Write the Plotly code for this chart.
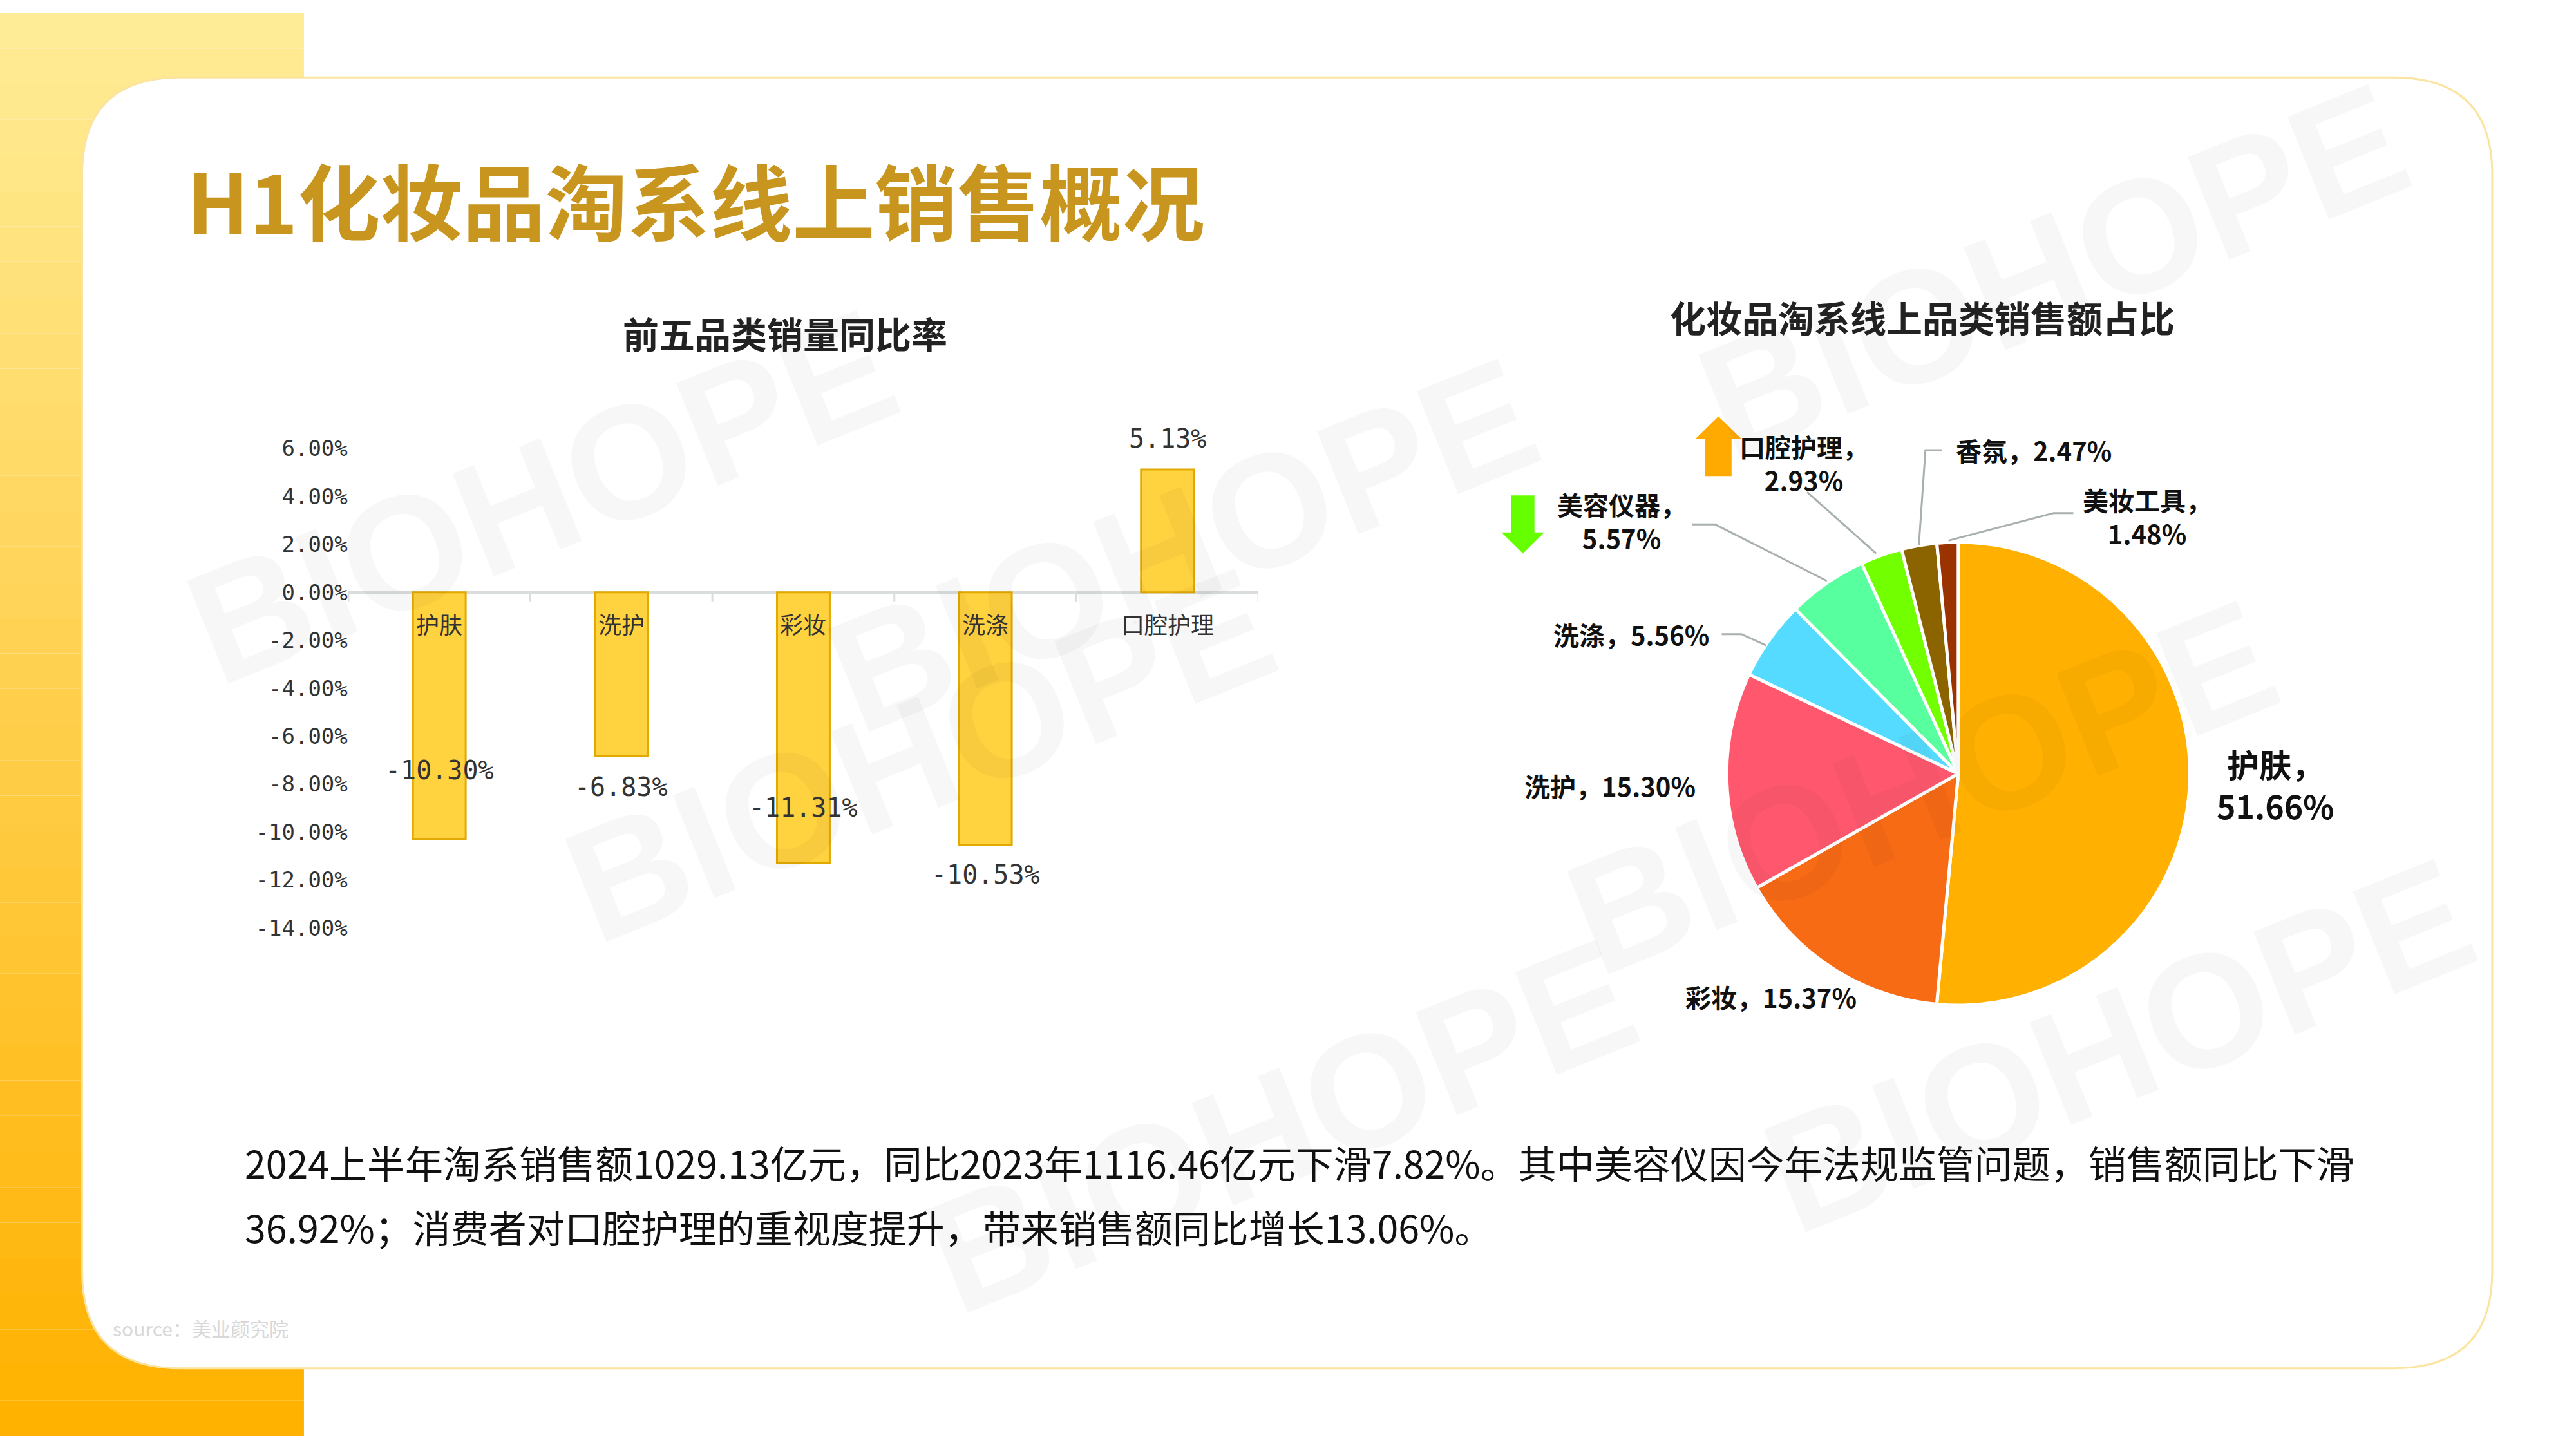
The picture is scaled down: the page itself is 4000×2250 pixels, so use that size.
import plotly.graph_objects as go

# ---- data ----
bar_categories = ["护肤", "洗护", "彩妆", "洗涤", "口腔护理"]
bar_values = [-10.30, -6.83, -11.31, -10.53, 5.13]
y_ticks = [6, 4, 2, 0, -2, -4, -6, -8, -10, -12, -14]

pie_labels = ["护肤", "彩妆", "洗护", "洗涤", "美容仪器", "口腔护理", "香氛", "美妆工具"]
pie_values = [51.66, 15.37, 15.30, 5.56, 5.57, 2.93, 2.47, 1.48]
pie_colors = ["#FFB000", "#F76B15", "#FF586E", "#55DBFF", "#58FF9E", "#72FF00", "#8B6400", "#9B3300"]

title_text = "H1化妆品淘系线上销售概况"
bar_title = "前五品类销量同比率"
pie_title = "化妆品淘系线上品类销售额占比"
para_lines = ["2024上半年淘系销售额1029.13亿元，同比2023年1116.46亿元下滑7.82%。其中美容仪因今年法规监管问题，销售额同比下滑",
              "36.92%；消费者对口腔护理的重视度提升，带来销售额同比增长13.06%。"]
source = "source：美业颜究院"

W, H = 4000, 2250
RW, RH = 1568, 882
def px(x): return x / RW
def py(y): return 1 - y / RH

FONT = "Noto Sans CJK SC"
fig = go.Figure()
shapes = []
# left gradient strip
n = 40
for i in range(n):
    t = i / (n - 1)
    g = int(236 - (236 - 178) * t)
    b = int(150 - (150 - 0) * t)
    shapes.append(dict(type="rect", xref="paper", yref="paper", x0=0, x1=px(185),
                       y0=1 - (i + 1) / n, y1=1 - i / n, line=dict(width=0),
                       fillcolor=f"rgb(255,{g},{b})", layer="below"))
# card with rounded corners
x0, x1, y0, y1, rr = 50 / RW, 1517 / RW, 1 - 840 / RH, 1 - 40 / RH, 60
rx, ry = rr / RW, rr / RH
path = (f"M {x0+rx},{y0} L {x1-rx},{y0} Q {x1},{y0} {x1},{y0+ry} L {x1},{y1-ry} Q {x1},{y1} {x1-rx},{y1} "
        f"L {x0+rx},{y1} Q {x0},{y1} {x0},{y1-ry} L {x0},{y0+ry} Q {x0},{y0} {x0+rx},{y0} Z")
shapes.append(dict(type="path", xref="paper", yref="paper", path=path, fillcolor="white",
                   line=dict(color="#FBE3A0", width=3), layer="below"))

def A(x, y, text, size, color="#111", family=FONT, xanchor="center", **kw):
    return dict(x=px(x), y=py(y), xref="paper", yref="paper", showarrow=False, text=text,
                xanchor=xanchor, yanchor="middle", font=dict(size=size, color=color, family=family), **kw)

annos = []
# watermarks
for (wx, wy) in [(330, 300), (720, 330), (560, 460), (1250, 160), (1170, 480), (780, 690), (1290, 640)]:
    annos.append(A(wx, wy, "<b>BIOHOPE</b>", 250, color="rgba(0,0,0,0.03)", family="Liberation Sans", textangle=-22))

# ---- bar chart ----
fig.add_trace(go.Bar(x=bar_categories, y=bar_values, width=0.29,
                     marker=dict(color="#FFD23F", line=dict(color="#E2A900", width=3)),
                     xaxis="x", yaxis="y"))
fig.update_layout(
    xaxis=dict(domain=[px(212), px(766)], range=[-0.5, 4.5], showticklabels=False, showgrid=False,
               zeroline=False, showline=False, fixedrange=True),
    yaxis=dict(domain=[py(567), py(270)], range=[-14, 6], tickvals=y_ticks,
               ticktext=[f"{v:.2f}%" for v in y_ticks], showgrid=False, zeroline=True,
               zerolinecolor="#D9DDDD", zerolinewidth=4, showline=False,
               tickfont=dict(size=34, color="#333", family="DejaVu Sans Mono"), ticks="", ticklen=0),
)
for i in range(6):
    shapes.append(dict(type="line", xref="x", yref="y", x0=-0.5 + i, x1=-0.5 + i, y0=0, y1=-0.4,
                       line=dict(color="#D9DDDD", width=3)))
lbl_shift = [107, -48, 87, -46, 48]
for c, v, s in zip(bar_categories, bar_values, lbl_shift):
    annos.append(dict(x=c, y=v, xref="x", yref="y", text=f"{v:.2f}%", showarrow=False,
                      xanchor="center", yanchor="middle",
                      yshift=s, font=dict(size=40, color="#333", family="DejaVu Sans Mono")))
    annos.append(dict(x=c, y=0, xref="x", yref="y", text=c, showarrow=False, yshift=-48,
                      xanchor="center", yanchor="middle",
                      font=dict(size=36, color="#333", family=FONT)))

# ---- pie ----
fig.add_trace(go.Pie(labels=pie_labels, values=pie_values, sort=False, direction="clockwise", rotation=0,
                     marker=dict(colors=pie_colors, line=dict(color="white", width=5)),
                     textinfo="none", showlegend=False, hoverinfo="label+value",
                     domain=dict(x=[px(1048), px(1336)], y=[py(615), py(328)])))

pie_label_pos = [(1385, 478, "，<br>"), (1078, 610, "，"), (980, 479, "，"), (993, 385, "，"),
                 (987, 315, "，<br>"), (1098, 279, "，<br>"), (1238, 271, "，"), (1307, 312, "，<br>")]
for lab, val, (lx, ly, sep) in zip(pie_labels, pie_values, pie_label_pos):
    sz = 50 if lab == "护肤" else 40
    annos.append(A(lx, ly, f"<b>{lab}{sep}{val:.2f}%</b>", sz, color="#111"))
leaders = [[(1048, 385), (1060, 385), (1075, 392)],
           [(1030, 317), (1044, 317), (1112, 352)],
           [(1100, 297), (1142, 335)],
           [(1182, 271), (1172, 271), (1168, 330)],
           [(1262, 310), (1250, 310), (1186, 327)]]
for pts in leaders:
    d = "M " + " L ".join(f"{px(a)},{py(b)}" for a, b in pts)
    shapes.append(dict(type="path", xref="paper", yref="paper", path=d, line=dict(color="#A8B0B0", width=3)))

def arrow(cx, top, bot, w, hw, hh, color, up=True):
    if up:
        pts = [(cx, top), (cx + hw, top + hh), (cx + w, top + hh), (cx + w, bot), (cx - w, bot), (cx - w, top + hh), (cx - hw, top + hh)]
    else:
        pts = [(cx, bot), (cx + hw, bot - hh), (cx + w, bot - hh), (cx + w, top), (cx - w, top), (cx - w, bot - hh), (cx - hw, bot - hh)]
    d = "M " + " L ".join(f"{px(a)},{py(b)}" for a, b in pts) + " Z"
    shapes.append(dict(type="path", xref="paper", yref="paper", path=d, fillcolor=color, line=dict(width=0)))
arrow(1046, 250, 287, 8, 14, 14, "#FFAA00", up=True)
arrow(927, 299, 335, 7, 13, 13, "#66FF00", up=False)

# text
annos += [
    A(113, 115, f"<b>{title_text}</b>", 128, color="#C8961E", xanchor="left"),
    A(478, 198, f"<b>{bar_title}</b>", 56, color="#222"),
    A(1170, 188, f"<b>{pie_title}</b>", 56, color="#222"),
    A(148, 712, para_lines[0], 59, xanchor="left"),
    A(148, 752, para_lines[1], 59, xanchor="left"),
    A(68, 815, source, 30, color="#D8D8D8", xanchor="left"),
]

fig.update_layout(width=W, height=H, margin=dict(l=0, r=0, t=0, b=0), paper_bgcolor="white",
                  plot_bgcolor="rgba(0,0,0,0)", showlegend=False, shapes=shapes, annotations=annos)
fig.write_html("out.html", config={"displayModeBar": False},
               post_script="document.body.style.margin='0';document.body.style.overflow='hidden';")
